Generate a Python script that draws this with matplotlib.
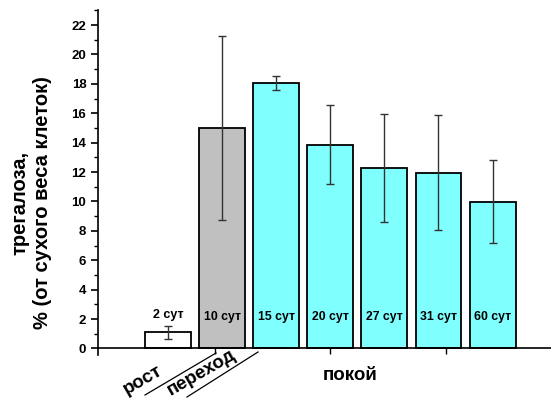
import matplotlib.pyplot as plt
from matplotlib.ticker import MultipleLocator

plt.rcParams['font.family'] = ['Liberation Sans', 'DejaVu Sans']
plt.rcParams['font.weight'] = 'bold'

days = ["2 сут", "10 сут", "15 сут", "20 сут", "27 сут", "31 сут", "60 сут"]
values = [1.1, 15.0, 18.05, 13.87, 12.27, 11.95, 9.98]
errors = [0.45, 6.25, 0.5, 2.67, 3.65, 3.92, 2.84]
colors = ["white", "#c0c0c0", "#80ffff", "#80ffff", "#80ffff", "#80ffff", "#80ffff"]
phases = ["рост", "переход", "покой"]

fig = plt.figure(figsize=(5.51, 3.98), dpi=100)
ax = fig.add_axes([0.178, 0.108, 0.822, 0.866])

x = list(range(len(days)))
ax.bar(x, values, width=0.85, color=colors, edgecolor="black", linewidth=1.3, zorder=2)
ax.errorbar(x, values, yerr=errors, fmt="none", ecolor="#333333", elinewidth=1,
            capsize=3, capthick=1, zorder=3)

# day labels
ax.text(x[0], 2.3, days[0], ha="center", va="center", fontsize=9, fontweight="bold")
for i in x[1:]:
    ax.text(i, 2.15, days[i], ha="center", va="center", fontsize=8.8, fontweight="bold", zorder=4)

ax.set_xlim(-1.294, 7.08)
ax.set_ylim(-0.45, 23)
ax.spines["top"].set_visible(False)
ax.spines["right"].set_visible(False)
ax.spines["bottom"].set_position(("data", 0))
ax.spines["left"].set_linewidth(1.2)
ax.spines["bottom"].set_linewidth(1.2)

ax.set_yticks(range(0, 23, 2))
ax.yaxis.set_minor_locator(MultipleLocator(1))
ax.tick_params(axis="y", which="major", direction="out", length=5, width=1.2, labelsize=9.5)
ax.tick_params(axis="y", which="minor", direction="out", length=3, width=1)
ax.set_xticks([0.87, 3.0, 5.13])
ax.set_xticklabels([])
ax.tick_params(axis="x", which="major", direction="out", length=4, width=1)
for lab in ax.get_yticklabels():
    lab.set_fontweight("bold")

# phase labels under the axis
fig.text(143 / 551, 1 - 380 / 398, phases[0], rotation=30, ha="center", va="center",
         fontsize=13.5, fontweight="bold")
fig.text(201 / 551, 1 - 373 / 398, phases[1], rotation=30, ha="center", va="center",
         fontsize=13.5, fontweight="bold")
fig.text(350 / 551, 1 - 375 / 398, phases[2], ha="center", va="center",
         fontsize=13.5, fontweight="bold")
fig.add_artist(plt.Line2D([145 / 551, 216 / 551], [1 - 395 / 398, 1 - 353 / 398],
                          color="black", lw=0.9))
fig.add_artist(plt.Line2D([187 / 551, 258 / 551], [1 - 397 / 398, 1 - 352 / 398],
                          color="black", lw=0.9))

fig.text(31 / 551, 1 - 203 / 398, "трегалоза,\n% (от сухого веса клеток)", rotation=90,
         ha="center", va="center", multialignment="center", fontsize=14.5,
         fontweight="bold", linespacing=1.25)

fig.savefig("out.png", dpi=100)
